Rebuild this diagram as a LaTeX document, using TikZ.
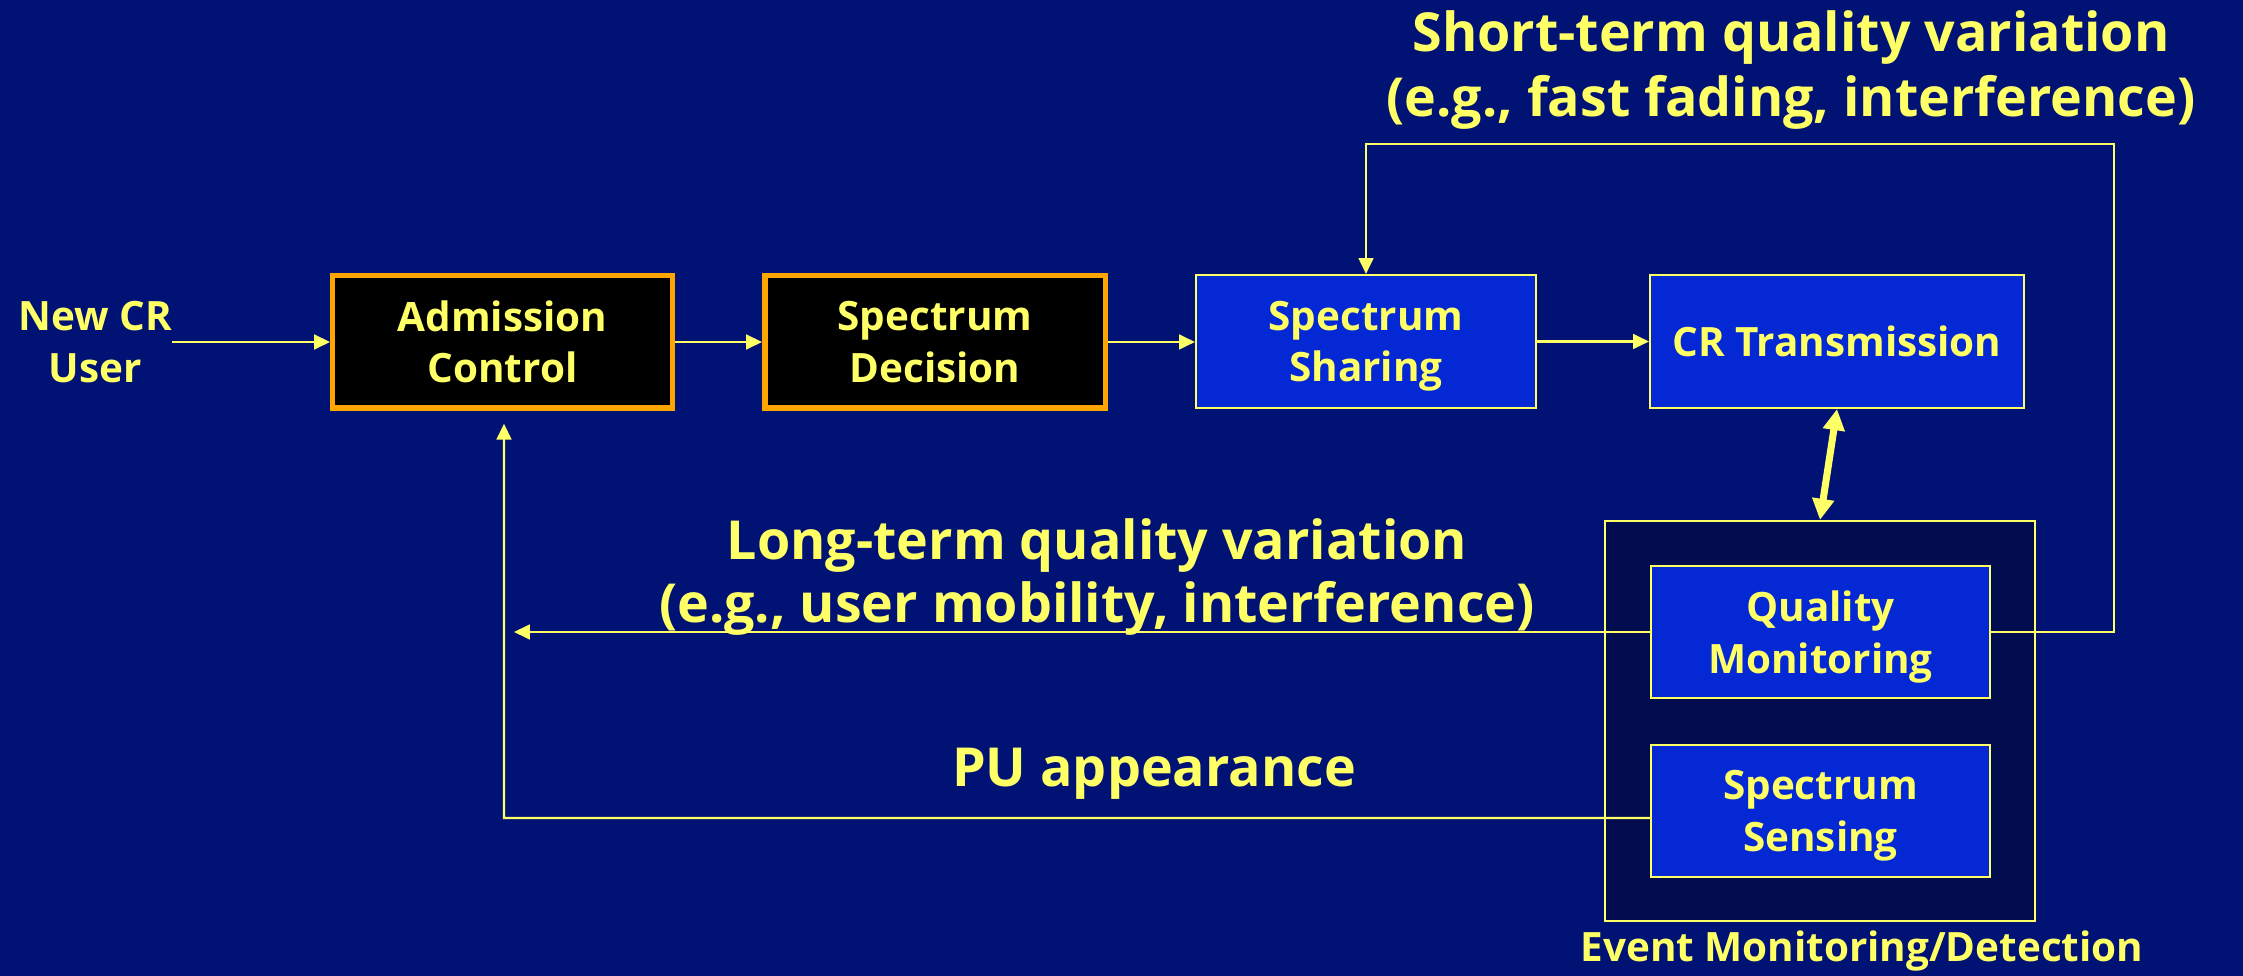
\documentclass[tikz,border=0pt]{standalone}
\usepackage{fontspec}
\setmainfont{Open Sans}
\usetikzlibrary{arrows.meta}
\definecolor{bg}{RGB}{0,19,116}
\definecolor{bluebox}{RGB}{4,40,212}
\definecolor{evtfill}{RGB}{0,12,78}
\definecolor{yel}{RGB}{255,255,102}
\definecolor{org}{RGB}{255,165,0}
\newcommand\myboxfont{\bfseries\fontsize{11.5pt}{14.7pt}\selectfont}
\newcommand\mylblfont{\bfseries\fontsize{15.3pt}{18pt}\selectfont}
\newcommand\nodp[1]{\raisebox{0pt}[\height][-2.2pt]{#1}}
\begin{document}
\begin{tikzpicture}[x=0.1mm,y=-0.1mm,
  blk/.style={draw=org, line width=1.56pt, fill=black, text=yel, font=\myboxfont, align=center, inner sep=0pt},
  blu/.style={draw=yel, line width=0.6pt, fill=bluebox, text=yel, font=\myboxfont, align=center, inner sep=0pt},
  grp/.style={draw=yel, line width=0.6pt, fill=evtfill, inner sep=0pt},
  lbl/.style={text=yel, font=\mylblfont, inner sep=0pt},
  sml/.style={text=yel, font=\myboxfont, inner sep=0pt},
  arr/.style={draw=yel, line width=0.6pt, -{Triangle[length=4.5pt,width=4.2pt]}},
  dbl/.style={draw=yel, line width=2pt, {Triangle[length=6pt,width=6pt]}-{Triangle[length=6pt,width=6pt]}}
]
\fill[bg] (0,0) rectangle (2243,976);
\useasboundingbox (0,0) rectangle (2243,976);

% main chain
\node[blk, minimum width=33.95mm, minimum height=13.25mm] (adm) at (502.5,342) {Admission\\Control};
\node[blk, minimum width=34.05mm, minimum height=13.25mm] (dec) at (935,342) {Spectrum\\\nodp{Decision}};
\node[blu, minimum width=34.0mm, minimum height=13.3mm] (sha) at (1366,341.5) {Spectrum\\\nodp{Sharing}};
\node[blu, minimum width=37.4mm, minimum height=13.3mm] (crt) at (1837,341.5) {CR Transmission};

% event monitoring group
\node[grp, minimum width=43.0mm, minimum height=40.0mm] (evt) at (1820,721) {};
\node[blu, minimum width=33.9mm, minimum height=13.2mm] (qm) at (1820.5,632) {Quality\\\nodp{Monitoring}};
\node[blu, minimum width=33.9mm, minimum height=13.2mm] (ss) at (1820.5,811) {Spectrum\\\nodp{Sensing}};
\node[sml, anchor=base] (evl) at (1862,962) {Event Monitoring/Detection};

% input
\node[sml, align=center] (newcr) at (95,342) {New CR\\User};

% labels
\node[lbl, anchor=base] (st1) at (1791,52) {Short-term quality variation};
\node[lbl, anchor=base] (st2) at (1791,117) {(e.g., fast fading, interference)};
\node[lbl, anchor=base] (lt1) at (1097,560) {Long-term quality variation};
\node[lbl, anchor=base] (lt2) at (1097,623) {(e.g., user mobility, interference)};
\node[lbl, anchor=base] (pu) at (1154,787) {PU appearance};

% connectors
\draw[arr] (newcr.east) -- (adm.west);
\draw[arr] (adm.east) -- (dec.west);
\draw[arr] (dec.east) -- (dec.east -| sha.west);
\draw[arr] (sha.east) -- (crt.west);
\draw[dbl] (crt.south) -- (evt.north);

\coordinate (stc) at (2114,144);
\draw[arr] (qm.east) -| (stc) -| (sha.north);

\coordinate (ltend) at (514,632);
\draw[arr] (qm.west) -- (ltend);

\coordinate (puc) at (504,818);
\coordinate (putip) at ([yshift=-1.275mm]adm.south);
\draw[arr] ([yshift=-0.7mm]ss.west) -- (puc) -- (putip -| puc);
\end{tikzpicture}
\end{document}
